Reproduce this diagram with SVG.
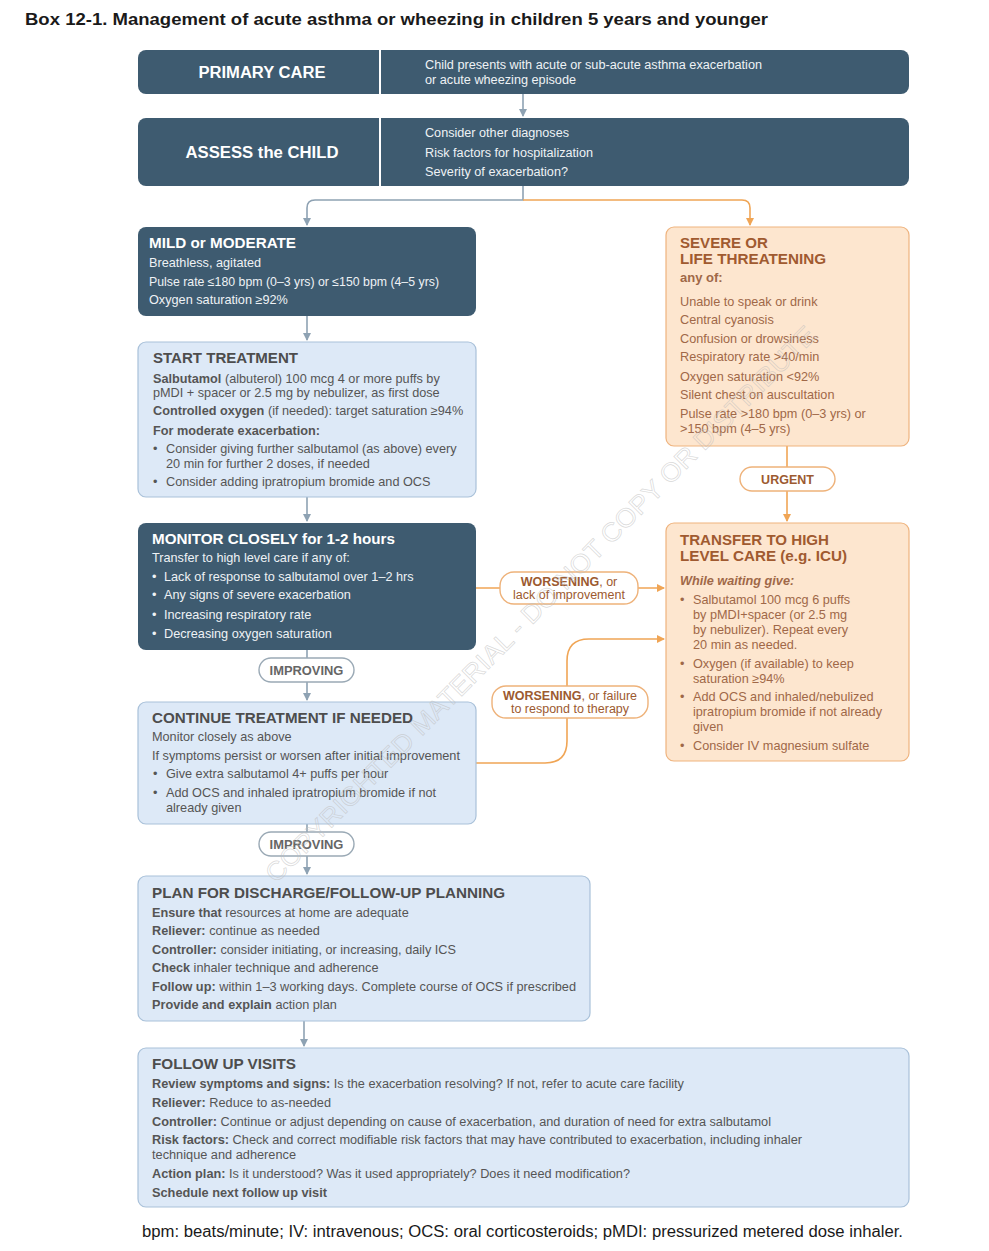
<svg xmlns="http://www.w3.org/2000/svg" width="989" height="1251" viewBox="0 0 989 1251">
<style>
text{font-family:"Liberation Sans",Arial,sans-serif}
.dark{fill:#3e5b70}
.blue{fill:#dde9f7;stroke:#a9c1d9;stroke-width:1.2}
.peach{fill:#fde6cf;stroke:#efb37e;stroke-width:1.2}
.hw{fill:#fff;font-weight:bold;font-size:16px}
.tw{fill:#fff;font-weight:bold;font-size:15px}
.w{fill:#eef2f5;font-size:12.7px}
.wh{fill:#eef2f5;font-size:12px}
.tg{fill:#4d4d4d;font-weight:bold;font-size:15px}
.g{fill:#555;font-size:12.7px}
.tp{fill:#a05a30;font-weight:bold;font-size:15px}
.p{fill:#a06848;font-size:12.7px}
.b{font-weight:bold}
.cg{fill:none;stroke:#8ea2b3;stroke-width:1.6}
.co{fill:none;stroke:#f0a555;stroke-width:1.6}
.pillg{fill:#fff;stroke:#9aa9b5;stroke-width:1.4}
.pillo{fill:#fff;stroke:#eeb27a;stroke-width:1.4}
.lg{fill:#666;font-size:12.9px;font-weight:bold}
.lo{fill:#9c5a30;font-size:12.5px}
</style>
<defs>
<marker id="ag" markerWidth="8" markerHeight="8" refX="7" refY="4" orient="auto" markerUnits="userSpaceOnUse"><path d="M0,0 L8,4 L0,8 z" fill="#8ea2b3"/></marker>
<marker id="ao" markerWidth="8" markerHeight="8" refX="7" refY="4" orient="auto" markerUnits="userSpaceOnUse"><path d="M0,0 L8,4 L0,8 z" fill="#f0a555"/></marker>
</defs>
<rect width="989" height="1251" fill="#fff"/>
<text x="25" y="25" font-size="17" font-weight="bold" fill="#1a1a1a" textLength="743" lengthAdjust="spacingAndGlyphs">Box 12-1. Management of acute asthma or wheezing in children 5 years and younger</text>

<g id="connectors">
<path class="cg" d="M523,94 V116" marker-end="url(#ag)"/>
<path class="cg" d="M523,186 V200 H315 Q307,200 307,208 V225" marker-end="url(#ag)"/>
<path class="co" d="M523,200 H742 Q750,200 750,208 V225" marker-end="url(#ao)"/>
<path class="cg" d="M307,316 V340" marker-end="url(#ag)"/>
<path class="cg" d="M307,497 V521" marker-end="url(#ag)"/>
<path class="cg" d="M307,650 V700" marker-end="url(#ag)"/>
<path class="cg" d="M307,824 V874" marker-end="url(#ag)"/>
<path class="cg" d="M304,1021 V1046" marker-end="url(#ag)"/>
<path class="co" d="M787,446 V521" marker-end="url(#ao)"/>
<path class="co" d="M476,588 H664" marker-end="url(#ao)"/>
<path class="co" d="M476,763 H545 Q567,763 567,741 V661 Q567,639 589,639 H664" marker-end="url(#ao)"/>
</g>

<g id="primary-care">
<rect x="138" y="50" width="771" height="44" rx="8" class="dark"/>
<line x1="380" y1="50" x2="380" y2="94" stroke="#fff" stroke-width="2"/>
<text x="262" y="78" text-anchor="middle" class="hw" textLength="127" lengthAdjust="spacingAndGlyphs">PRIMARY CARE</text>
<text x="425" y="69" class="wh" textLength="337" lengthAdjust="spacingAndGlyphs">Child presents with acute or sub-acute asthma exacerbation</text>
<text x="425" y="84" class="wh" textLength="151" lengthAdjust="spacingAndGlyphs">or acute wheezing episode</text>
</g>

<g id="assess">
<rect x="138" y="118" width="771" height="68" rx="8" class="dark"/>
<line x1="380" y1="118" x2="380" y2="186" stroke="#fff" stroke-width="2"/>
<text x="262" y="158" text-anchor="middle" class="hw" textLength="153" lengthAdjust="spacingAndGlyphs">ASSESS the CHILD</text>
<text x="425" y="137" class="wh" textLength="144" lengthAdjust="spacingAndGlyphs">Consider other diagnoses</text>
<text x="425" y="157" class="wh" textLength="168" lengthAdjust="spacingAndGlyphs">Risk factors for hospitalization</text>
<text x="425" y="176" class="wh" textLength="143" lengthAdjust="spacingAndGlyphs">Severity of exacerbation?</text>
</g>

<g id="mild">
<rect x="138" y="227" width="338" height="89" rx="8" class="dark"/>
<text x="149" y="248" class="tw" textLength="147" lengthAdjust="spacingAndGlyphs">MILD or MODERATE</text>
<text x="149" y="267" class="w">Breathless, agitated</text>
<text x="149" y="286" class="w" textLength="290" lengthAdjust="spacingAndGlyphs">Pulse rate ≤180 bpm (0–3 yrs) or ≤150 bpm (4–5 yrs)</text>
<text x="149" y="304" class="w">Oxygen saturation ≥92%</text>
</g>

<g id="start">
<rect x="138" y="342" width="338" height="155" rx="8" class="blue"/>
<text x="153" y="363" class="tg" textLength="145" lengthAdjust="spacingAndGlyphs">START TREATMENT</text>
<text x="153" y="383" class="g"><tspan class="b">Salbutamol</tspan> (albuterol) 100 mcg 4 or more puffs by</text>
<text x="153" y="397" class="g">pMDI + spacer or 2.5 mg by nebulizer, as first dose</text>
<text x="153" y="415" class="g"><tspan class="b">Controlled oxygen</tspan> (if needed): target saturation ≥94%</text>
<text x="153" y="435" class="g b">For moderate exacerbation:</text>
<text x="153" y="453" class="g">•</text>
<text x="166" y="453" class="g">Consider giving further salbutamol (as above) every</text>
<text x="166" y="468" class="g">20 min for further 2 doses, if needed</text>
<text x="153" y="486" class="g">•</text>
<text x="166" y="486" class="g">Consider adding ipratropium bromide and OCS</text>
</g>

<g id="monitor">
<rect x="138" y="523" width="338" height="127" rx="8" class="dark"/>
<text x="152" y="544" class="tw" textLength="243" lengthAdjust="spacingAndGlyphs">MONITOR CLOSELY for 1-2 hours</text>
<text x="152" y="562" class="w">Transfer to high level care if any of:</text>
<text x="152" y="581" class="w">•</text><text x="164" y="581" class="w">Lack of response to salbutamol over 1–2 hrs</text>
<text x="152" y="599" class="w">•</text><text x="164" y="599" class="w">Any signs of severe exacerbation</text>
<text x="152" y="619" class="w">•</text><text x="164" y="619" class="w">Increasing respiratory rate</text>
<text x="152" y="638" class="w">•</text><text x="164" y="638" class="w">Decreasing oxygen saturation</text>
</g>

<g id="improving1">
<rect x="259" y="658" width="95" height="24" rx="12" class="pillg"/>
<text x="306.5" y="674.5" text-anchor="middle" class="lg">IMPROVING</text>
</g>

<g id="continue">
<rect x="138" y="702" width="338" height="122" rx="8" class="blue"/>
<text x="152" y="723" class="tg" textLength="261" lengthAdjust="spacingAndGlyphs">CONTINUE TREATMENT IF NEEDED</text>
<text x="152" y="741" class="g">Monitor closely as above</text>
<text x="152" y="760" class="g" textLength="308" lengthAdjust="spacingAndGlyphs">If symptoms persist or worsen after initial improvement</text>
<text x="153" y="778" class="g">•</text><text x="166" y="778" class="g">Give extra salbutamol 4+ puffs per hour</text>
<text x="153" y="797" class="g">•</text><text x="166" y="797" class="g">Add OCS and inhaled ipratropium bromide if not</text>
<text x="166" y="812" class="g">already given</text>
</g>

<g id="improving2">
<rect x="259" y="832" width="95" height="24" rx="12" class="pillg"/>
<text x="306.5" y="848.5" text-anchor="middle" class="lg">IMPROVING</text>
</g>

<g id="plan">
<rect x="138" y="876" width="452" height="145" rx="8" class="blue"/>
<text x="152" y="898" class="tg" textLength="353" lengthAdjust="spacingAndGlyphs">PLAN FOR DISCHARGE/FOLLOW-UP PLANNING</text>
<text x="152" y="917" class="g"><tspan class="b">Ensure that</tspan> resources at home are adequate</text>
<text x="152" y="935" class="g"><tspan class="b">Reliever:</tspan> continue as needed</text>
<text x="152" y="954" class="g"><tspan class="b">Controller:</tspan> consider initiating, or increasing, daily ICS</text>
<text x="152" y="972" class="g"><tspan class="b">Check</tspan> inhaler technique and adherence</text>
<text x="152" y="991" class="g" textLength="424" lengthAdjust="spacingAndGlyphs"><tspan class="b">Follow up:</tspan> within 1–3 working days. Complete course of OCS if prescribed</text>
<text x="152" y="1009" class="g"><tspan class="b">Provide and explain</tspan> action plan</text>
</g>

<g id="followup">
<rect x="138" y="1048" width="771" height="159" rx="8" class="blue"/>
<text x="152" y="1069" class="tg" textLength="144" lengthAdjust="spacingAndGlyphs">FOLLOW UP VISITS</text>
<text x="152" y="1088" class="g" font-size="12" style="font-size:12px" textLength="532" lengthAdjust="spacingAndGlyphs"><tspan class="b">Review symptoms and signs:</tspan> Is the exacerbation resolving? If not, refer to acute care facility</text>
<text x="152" y="1107" class="g" style="font-size:12px" textLength="179" lengthAdjust="spacingAndGlyphs"><tspan class="b">Reliever:</tspan> Reduce to as-needed</text>
<text x="152" y="1126" class="g" style="font-size:12px" textLength="619" lengthAdjust="spacingAndGlyphs"><tspan class="b">Controller:</tspan> Continue or adjust depending on cause of exacerbation, and duration of need for extra salbutamol</text>
<text x="152" y="1144" class="g" style="font-size:12px" textLength="650" lengthAdjust="spacingAndGlyphs"><tspan class="b">Risk factors:</tspan> Check and correct modifiable risk factors that may have contributed to exacerbation, including inhaler</text>
<text x="152" y="1159" class="g" style="font-size:12px" textLength="144" lengthAdjust="spacingAndGlyphs">technique and adherence</text>
<text x="152" y="1178" class="g" style="font-size:12px" textLength="478" lengthAdjust="spacingAndGlyphs"><tspan class="b">Action plan:</tspan> Is it understood? Was it used appropriately? Does it need modification?</text>
<text x="152" y="1197" class="g b" style="font-size:12px" textLength="175" lengthAdjust="spacingAndGlyphs">Schedule next follow up visit</text>
</g>

<g id="severe">
<rect x="666" y="227" width="243" height="219" rx="8" class="peach"/>
<text x="680" y="248" class="tp" textLength="88" lengthAdjust="spacingAndGlyphs">SEVERE OR</text>
<text x="680" y="264" class="tp" textLength="146" lengthAdjust="spacingAndGlyphs">LIFE THREATENING</text>
<text x="680" y="282" class="p b" style="font-size:13px">any of:</text>
<text x="680" y="306" class="p">Unable to speak or drink</text>
<text x="680" y="324" class="p">Central cyanosis</text>
<text x="680" y="343" class="p">Confusion or drowsiness</text>
<text x="680" y="361" class="p">Respiratory rate &gt;40/min</text>
<text x="680" y="381" class="p">Oxygen saturation &lt;92%</text>
<text x="680" y="399" class="p">Silent chest on auscultation</text>
<text x="680" y="418" class="p">Pulse rate &gt;180 bpm (0–3 yrs) or</text>
<text x="680" y="433" class="p">&gt;150 bpm (4–5 yrs)</text>
</g>

<g id="urgent">
<rect x="740" y="467" width="95" height="24" rx="12" class="pillo"/>
<text x="787.5" y="483.5" text-anchor="middle" class="lo b">URGENT</text>
</g>

<g id="transfer">
<rect x="666" y="523" width="243" height="238" rx="8" class="peach"/>
<text x="680" y="545" class="tp" textLength="149" lengthAdjust="spacingAndGlyphs">TRANSFER TO HIGH</text>
<text x="680" y="561" class="tp" textLength="167" lengthAdjust="spacingAndGlyphs">LEVEL CARE (e.g. ICU)</text>
<text x="680" y="585" class="p b" font-style="italic">While waiting give:</text>
<text x="680" y="604" class="p">•</text><text x="693" y="604" class="p">Salbutamol 100 mcg 6 puffs</text>
<text x="693" y="619" class="p">by pMDI+spacer (or 2.5 mg</text>
<text x="693" y="634" class="p">by nebulizer). Repeat every</text>
<text x="693" y="649" class="p">20 min as needed.</text>
<text x="680" y="668" class="p">•</text><text x="693" y="668" class="p">Oxygen (if available) to keep</text>
<text x="693" y="683" class="p">saturation ≥94%</text>
<text x="680" y="701" class="p">•</text><text x="693" y="701" class="p">Add OCS and inhaled/nebulized</text>
<text x="693" y="716" class="p" textLength="189" lengthAdjust="spacingAndGlyphs">ipratropium bromide if not already</text>
<text x="693" y="731" class="p">given</text>
<text x="680" y="750" class="p">•</text><text x="693" y="750" class="p">Consider IV magnesium sulfate</text>
</g>

<g id="worsening1">
<rect x="500" y="572" width="138" height="32" rx="14" class="pillo"/>
<text x="569" y="586" text-anchor="middle" class="lo"><tspan class="b">WORSENING</tspan>, or</text>
<text x="569" y="599" text-anchor="middle" class="lo">lack of improvement</text>
</g>

<g id="worsening2">
<rect x="492" y="686" width="156" height="32" rx="14" class="pillo"/>
<text x="570" y="700" text-anchor="middle" class="lo"><tspan class="b">WORSENING</tspan>, or failure</text>
<text x="570" y="713" text-anchor="middle" class="lo">to respond to therapy</text>
</g>

<text x="142" y="1237" font-size="16" fill="#1a1a1a" textLength="761" lengthAdjust="spacingAndGlyphs">bpm: beats/minute; IV: intravenous; OCS: oral corticosteroids; pMDI: pressurized metered dose inhaler.</text>

<g id="watermark">
<text x="0" y="0" transform="translate(276,884) rotate(-45.3)" font-size="26" fill="none" stroke="#bdbdbd" stroke-opacity="0.6" stroke-width="0.7" textLength="770" lengthAdjust="spacingAndGlyphs">COPYRIGHTED MATERIAL - DO NOT COPY OR DISTRIBUTE</text>
</g>
</svg>
